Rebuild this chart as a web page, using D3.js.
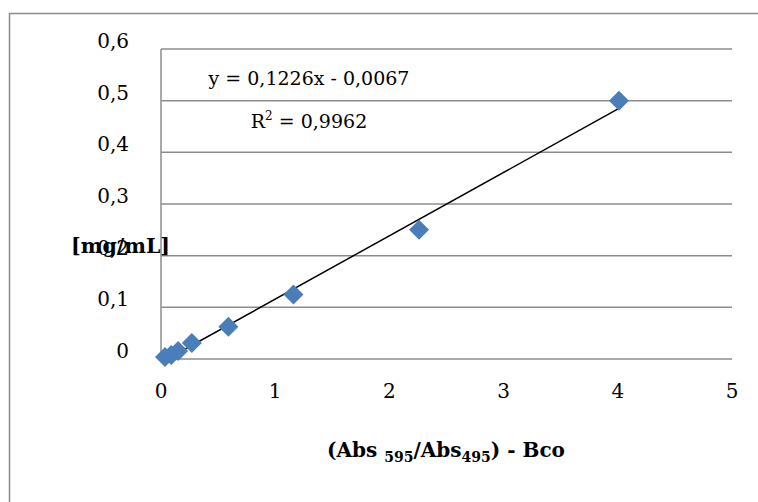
<!DOCTYPE html>
<html>
<head>
<meta charset="utf-8">
<script src="https://cdn.jsdelivr.net/npm/d3@7"></script>
<style>
  body { margin: 0; background: #fff; }
  svg text { font-family: "DejaVu Serif", "Liberation Serif", serif; fill: #000; }
</style>
</head>
<body>
<script>
// standard curve points: ratio vs concentration
const absRatio = [0.035, 0.09, 0.15, 0.27, 0.59, 1.16, 2.26, 4.01]
const conc = [0.0039, 0.0078, 0.0156, 0.031, 0.0625, 0.125, 0.25, 0.5]

const xTicks = [0, 1, 2, 3, 4, 5]
const yTicks = [0, 0.1, 0.2, 0.3, 0.4, 0.5, 0.6]

// linear fit shown on the chart
const slope = 0.1226
const intercept = -0.0067
const eqLabel = "y = 0,1226x - 0,0067"
const r2Value = "0,9962"

const outerWidth = 758, outerHeight = 502
const margin = {left:161, top:49, right:26, bottom:143}
const width = outerWidth - margin.left - margin.right
const height = outerHeight - margin.top - margin.bottom

const svg = d3.select("body").append("svg")
    .attr("width", outerWidth)
    .attr("height", outerHeight)

// outer chart frame (runs off the right and bottom)
svg.append("rect")
    .attr("x", 9.5).attr("y", 13.5)
    .attr("width", 800).attr("height", 600)
    .attr("fill", "none")
    .attr("stroke", "#8c8c8c")
    .attr("stroke-width", 1.5)

const canvas = svg.append("g")
    .attr("transform", `translate(${margin.left}, ${margin.top})`)

const x = d3.scaleLinear().domain([0, 5]).range([0, width])
const y = d3.scaleLinear().domain([0, 0.6]).range([height, 0])

const comma = d => String(d).replace(".", ",")

// gridlines
canvas.selectAll(".grid")
    .data(yTicks)
    .join("line")
    .attr("class", "grid")
    .attr("x1", 0).attr("x2", width)
    .attr("y1", d => y(d)).attr("y2", d => y(d))
    .attr("stroke", "#8c8c8c")
    .attr("stroke-width", 1.5)

// vertical axis line
canvas.append("line")
    .attr("x1", 0).attr("x2", 0)
    .attr("y1", 0).attr("y2", height)
    .attr("stroke", "#8c8c8c")
    .attr("stroke-width", 1.5)

// y tick labels
canvas.selectAll(".ylab")
    .data(yTicks)
    .join("text")
    .attr("class", "ylab")
    .attr("x", -32)
    .attr("y", d => y(d) - 1)
    .attr("text-anchor", "end")
    .style("font-size", "20px")
    .text(d => comma(d))

// x tick labels
canvas.selectAll(".xlab")
    .data(xTicks)
    .join("text")
    .attr("class", "xlab")
    .attr("x", d => x(d))
    .attr("y", height + 39)
    .attr("text-anchor", "middle")
    .style("font-size", "20px")
    .text(d => d)

// trendline over the data range
const xExt = d3.extent(absRatio)
canvas.append("line")
    .attr("x1", x(xExt[0])).attr("y1", y(slope * xExt[0] + intercept))
    .attr("x2", x(xExt[1])).attr("y2", y(slope * xExt[1] + intercept))
    .attr("stroke", "#000")
    .attr("stroke-width", 1.5)

// diamond markers
const pts = absRatio.map((v, i) => ({x: v, y: conc[i]}))
canvas.selectAll(".pt")
    .data(pts)
    .join("path")
    .attr("class", "pt")
    .attr("d", d3.symbol(d3.symbolSquare, 200))
    .attr("transform", d => `translate(${x(d.x)}, ${y(d.y)}) rotate(45)`)
    .attr("fill", "#4a7ebb")

// equation + R²
svg.append("text")
    .attr("x", 309).attr("y", 85)
    .attr("text-anchor", "middle")
    .style("font-size", "19px")
    .text(eqLabel)

const r2 = svg.append("text")
    .attr("x", 309).attr("y", 128)
    .attr("text-anchor", "middle")
    .style("font-size", "19px")
r2.append("tspan").text("R")
r2.append("tspan").attr("dy", -8).style("font-size", "12px").text("2")
r2.append("tspan").attr("dy", 8).text(" = " + r2Value)

// axis titles
const xt = svg.append("text")
    .attr("x", 446).attr("y", 457)
    .attr("text-anchor", "middle")
    .style("font-size", "20px")
    .style("font-weight", "bold")
xt.append("tspan").text("(Abs ")
xt.append("tspan").attr("dy", 5).style("font-size", "14px").text("595")
xt.append("tspan").attr("dy", -5).text("/Abs")
xt.append("tspan").attr("dy", 5).style("font-size", "14px").text("495")
xt.append("tspan").attr("dy", -5).text(") - Bco")

// sits over the 0,2 label, same as the source chart
svg.append("text")
    .attr("x", 71).attr("y", 253)
    .style("font-size", "20.5px")
    .style("font-weight", "bold")
    .text("[mg/mL]")
</script>
</body>
</html>
